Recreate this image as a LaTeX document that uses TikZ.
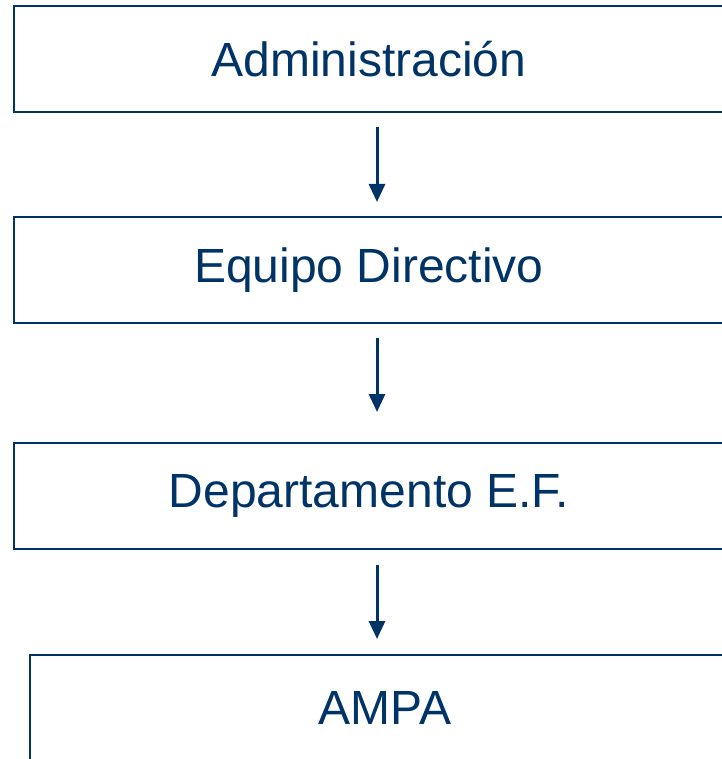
\documentclass[tikz,border=0pt]{standalone}
\usepackage{fontspec}
\setmainfont{Liberation Sans}
\usetikzlibrary{positioning,arrows.meta}
\definecolor{navy}{HTML}{003366}

\begin{document}
\begin{tikzpicture}[node distance = 105pt, auto]

    % Define block styles
    \tikzstyle{block} = [rectangle, draw = navy, line width = 2pt, outer sep = 0pt,
        text = navy, minimum width = 710pt, minimum height = 106pt,
        font = \fontsize{48pt}{56pt}\selectfont]
    \tikzstyle{line} = [draw = navy, line width = 3pt,
        -{Triangle[width = 16pt, length = 18pt]}]

    \useasboundingbox (0pt, 0pt) rectangle (721pt, -759pt);

    % Place nodes
    \node [block] (admin) at (369pt, -59pt) {Administración};
    \node [block, below = of admin] (equipo) {Equipo Directivo};
    \node [block, below = 120pt of equipo] (depto) {Departamento E.F.};
    \node [block, below = 106pt of depto, xshift = 16pt] (ampa) {AMPA};

    % Draw edges
    \path [line, shorten <= 15pt, shorten >= 15pt]
        ([xshift = 8pt]admin.south) -- ([xshift = 8pt]equipo.north);
    \path [line, shorten <= 15pt, shorten >= 31pt]
        ([xshift = 8pt]equipo.south) -- ([xshift = 8pt]depto.north);
    \path [line, shorten <= 16pt, shorten >= 16pt]
        ([xshift = 8pt]depto.south) -- ([xshift = -8pt]ampa.north);

\end{tikzpicture}
\end{document}
